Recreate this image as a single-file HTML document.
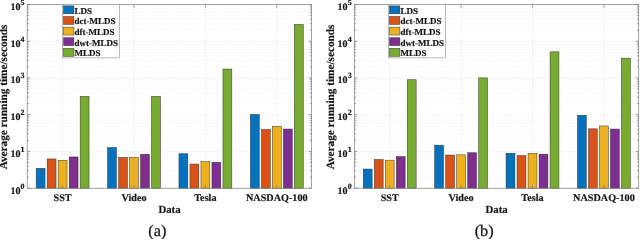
<!DOCTYPE html>
<html><head><meta charset="utf-8"><style>
html,body{margin:0;padding:0;background:#fff;width:640px;height:239px;overflow:hidden}
svg{display:block;will-change:transform}
text{font-family:"Liberation Serif",serif;fill:#161616;stroke:#161616;stroke-width:0.18px;text-rendering:geometricPrecision}
.tk{font-size:10px;font-weight:bold}
.sup{font-size:8px;font-weight:bold}
.xt{font-size:10.2px;font-weight:bold}
.xl{font-size:10.8px;font-weight:bold}
.yl{font-size:11.25px;font-weight:bold}
.lg{font-size:9px;font-weight:bold}
.cap{font-size:16.3px;stroke:#222;stroke-width:0.3px}
</style></head><body>
<svg width="640" height="239" viewBox="0 0 640 239">
<rect width="640" height="239" fill="#fff"/>
<line x1="27.20" y1="177.14" x2="311.60" y2="177.14" stroke="#f2f2f2" stroke-width="0.6" stroke-dasharray="1.6 0.8"/>
<line x1="27.20" y1="170.67" x2="311.60" y2="170.67" stroke="#f2f2f2" stroke-width="0.6" stroke-dasharray="1.6 0.8"/>
<line x1="27.20" y1="166.08" x2="311.60" y2="166.08" stroke="#f2f2f2" stroke-width="0.6" stroke-dasharray="1.6 0.8"/>
<line x1="27.20" y1="162.52" x2="311.60" y2="162.52" stroke="#f2f2f2" stroke-width="0.6" stroke-dasharray="1.6 0.8"/>
<line x1="27.20" y1="159.61" x2="311.60" y2="159.61" stroke="#f2f2f2" stroke-width="0.6" stroke-dasharray="1.6 0.8"/>
<line x1="27.20" y1="157.15" x2="311.60" y2="157.15" stroke="#f2f2f2" stroke-width="0.6" stroke-dasharray="1.6 0.8"/>
<line x1="27.20" y1="155.02" x2="311.60" y2="155.02" stroke="#f2f2f2" stroke-width="0.6" stroke-dasharray="1.6 0.8"/>
<line x1="27.20" y1="153.14" x2="311.60" y2="153.14" stroke="#f2f2f2" stroke-width="0.6" stroke-dasharray="1.6 0.8"/>
<line x1="27.20" y1="140.40" x2="311.60" y2="140.40" stroke="#f2f2f2" stroke-width="0.6" stroke-dasharray="1.6 0.8"/>
<line x1="27.20" y1="133.93" x2="311.60" y2="133.93" stroke="#f2f2f2" stroke-width="0.6" stroke-dasharray="1.6 0.8"/>
<line x1="27.20" y1="129.34" x2="311.60" y2="129.34" stroke="#f2f2f2" stroke-width="0.6" stroke-dasharray="1.6 0.8"/>
<line x1="27.20" y1="125.78" x2="311.60" y2="125.78" stroke="#f2f2f2" stroke-width="0.6" stroke-dasharray="1.6 0.8"/>
<line x1="27.20" y1="122.87" x2="311.60" y2="122.87" stroke="#f2f2f2" stroke-width="0.6" stroke-dasharray="1.6 0.8"/>
<line x1="27.20" y1="120.41" x2="311.60" y2="120.41" stroke="#f2f2f2" stroke-width="0.6" stroke-dasharray="1.6 0.8"/>
<line x1="27.20" y1="118.28" x2="311.60" y2="118.28" stroke="#f2f2f2" stroke-width="0.6" stroke-dasharray="1.6 0.8"/>
<line x1="27.20" y1="116.40" x2="311.60" y2="116.40" stroke="#f2f2f2" stroke-width="0.6" stroke-dasharray="1.6 0.8"/>
<line x1="27.20" y1="103.66" x2="311.60" y2="103.66" stroke="#f2f2f2" stroke-width="0.6" stroke-dasharray="1.6 0.8"/>
<line x1="27.20" y1="97.19" x2="311.60" y2="97.19" stroke="#f2f2f2" stroke-width="0.6" stroke-dasharray="1.6 0.8"/>
<line x1="27.20" y1="92.60" x2="311.60" y2="92.60" stroke="#f2f2f2" stroke-width="0.6" stroke-dasharray="1.6 0.8"/>
<line x1="27.20" y1="89.04" x2="311.60" y2="89.04" stroke="#f2f2f2" stroke-width="0.6" stroke-dasharray="1.6 0.8"/>
<line x1="27.20" y1="86.13" x2="311.60" y2="86.13" stroke="#f2f2f2" stroke-width="0.6" stroke-dasharray="1.6 0.8"/>
<line x1="27.20" y1="83.67" x2="311.60" y2="83.67" stroke="#f2f2f2" stroke-width="0.6" stroke-dasharray="1.6 0.8"/>
<line x1="27.20" y1="81.54" x2="311.60" y2="81.54" stroke="#f2f2f2" stroke-width="0.6" stroke-dasharray="1.6 0.8"/>
<line x1="27.20" y1="79.66" x2="311.60" y2="79.66" stroke="#f2f2f2" stroke-width="0.6" stroke-dasharray="1.6 0.8"/>
<line x1="27.20" y1="66.92" x2="311.60" y2="66.92" stroke="#f2f2f2" stroke-width="0.6" stroke-dasharray="1.6 0.8"/>
<line x1="27.20" y1="60.45" x2="311.60" y2="60.45" stroke="#f2f2f2" stroke-width="0.6" stroke-dasharray="1.6 0.8"/>
<line x1="27.20" y1="55.86" x2="311.60" y2="55.86" stroke="#f2f2f2" stroke-width="0.6" stroke-dasharray="1.6 0.8"/>
<line x1="27.20" y1="52.30" x2="311.60" y2="52.30" stroke="#f2f2f2" stroke-width="0.6" stroke-dasharray="1.6 0.8"/>
<line x1="27.20" y1="49.39" x2="311.60" y2="49.39" stroke="#f2f2f2" stroke-width="0.6" stroke-dasharray="1.6 0.8"/>
<line x1="27.20" y1="46.93" x2="311.60" y2="46.93" stroke="#f2f2f2" stroke-width="0.6" stroke-dasharray="1.6 0.8"/>
<line x1="27.20" y1="44.80" x2="311.60" y2="44.80" stroke="#f2f2f2" stroke-width="0.6" stroke-dasharray="1.6 0.8"/>
<line x1="27.20" y1="42.92" x2="311.60" y2="42.92" stroke="#f2f2f2" stroke-width="0.6" stroke-dasharray="1.6 0.8"/>
<line x1="27.20" y1="30.18" x2="311.60" y2="30.18" stroke="#f2f2f2" stroke-width="0.6" stroke-dasharray="1.6 0.8"/>
<line x1="27.20" y1="23.71" x2="311.60" y2="23.71" stroke="#f2f2f2" stroke-width="0.6" stroke-dasharray="1.6 0.8"/>
<line x1="27.20" y1="19.12" x2="311.60" y2="19.12" stroke="#f2f2f2" stroke-width="0.6" stroke-dasharray="1.6 0.8"/>
<line x1="27.20" y1="15.56" x2="311.60" y2="15.56" stroke="#f2f2f2" stroke-width="0.6" stroke-dasharray="1.6 0.8"/>
<line x1="27.20" y1="12.65" x2="311.60" y2="12.65" stroke="#f2f2f2" stroke-width="0.6" stroke-dasharray="1.6 0.8"/>
<line x1="27.20" y1="10.19" x2="311.60" y2="10.19" stroke="#f2f2f2" stroke-width="0.6" stroke-dasharray="1.6 0.8"/>
<line x1="27.20" y1="8.06" x2="311.60" y2="8.06" stroke="#f2f2f2" stroke-width="0.6" stroke-dasharray="1.6 0.8"/>
<line x1="27.20" y1="6.18" x2="311.60" y2="6.18" stroke="#f2f2f2" stroke-width="0.6" stroke-dasharray="1.6 0.8"/>
<line x1="27.20" y1="151.46" x2="311.60" y2="151.46" stroke="#ececec" stroke-width="0.6"/>
<line x1="27.20" y1="114.72" x2="311.60" y2="114.72" stroke="#ececec" stroke-width="0.6"/>
<line x1="27.20" y1="77.98" x2="311.60" y2="77.98" stroke="#ececec" stroke-width="0.6"/>
<line x1="27.20" y1="41.24" x2="311.60" y2="41.24" stroke="#ececec" stroke-width="0.6"/>
<line x1="62.60" y1="4.50" x2="62.60" y2="188.20" stroke="#ececec" stroke-width="0.6"/>
<line x1="134.00" y1="4.50" x2="134.00" y2="188.20" stroke="#ececec" stroke-width="0.6"/>
<line x1="205.40" y1="4.50" x2="205.40" y2="188.20" stroke="#ececec" stroke-width="0.6"/>
<line x1="276.80" y1="4.50" x2="276.80" y2="188.20" stroke="#ececec" stroke-width="0.6"/>
<rect x="34.95" y="167.15" width="11.30" height="21.05" fill="#fff"/>
<rect x="36.15" y="168.35" width="8.9" height="19.85" fill="#0072BD" stroke="#333" stroke-width="0.5"/>
<rect x="45.95" y="157.75" width="11.30" height="30.45" fill="#fff"/>
<rect x="47.15" y="158.95" width="8.9" height="29.25" fill="#D95319" stroke="#333" stroke-width="0.5"/>
<rect x="56.95" y="159.10" width="11.30" height="29.10" fill="#fff"/>
<rect x="58.15" y="160.30" width="8.9" height="27.90" fill="#EDB120" stroke="#333" stroke-width="0.5"/>
<rect x="67.95" y="155.75" width="11.30" height="32.45" fill="#fff"/>
<rect x="69.15" y="156.95" width="8.9" height="31.25" fill="#7E2F8E" stroke="#333" stroke-width="0.5"/>
<rect x="78.95" y="95.15" width="11.30" height="93.05" fill="#fff"/>
<rect x="80.15" y="96.35" width="8.9" height="91.85" fill="#77AC30" stroke="#333" stroke-width="0.5"/>
<rect x="106.35" y="146.35" width="11.30" height="41.85" fill="#fff"/>
<rect x="107.55" y="147.55" width="8.9" height="40.65" fill="#0072BD" stroke="#333" stroke-width="0.5"/>
<rect x="117.35" y="156.15" width="11.30" height="32.05" fill="#fff"/>
<rect x="118.55" y="157.35" width="8.9" height="30.85" fill="#D95319" stroke="#333" stroke-width="0.5"/>
<rect x="128.35" y="156.15" width="11.30" height="32.05" fill="#fff"/>
<rect x="129.55" y="157.35" width="8.9" height="30.85" fill="#EDB120" stroke="#333" stroke-width="0.5"/>
<rect x="139.35" y="153.05" width="11.30" height="35.15" fill="#fff"/>
<rect x="140.55" y="154.25" width="8.9" height="33.95" fill="#7E2F8E" stroke="#333" stroke-width="0.5"/>
<rect x="150.35" y="95.15" width="11.30" height="93.05" fill="#fff"/>
<rect x="151.55" y="96.35" width="8.9" height="91.85" fill="#77AC30" stroke="#333" stroke-width="0.5"/>
<rect x="177.75" y="152.55" width="11.30" height="35.65" fill="#fff"/>
<rect x="178.95" y="153.75" width="8.9" height="34.45" fill="#0072BD" stroke="#333" stroke-width="0.5"/>
<rect x="188.75" y="162.85" width="11.30" height="25.35" fill="#fff"/>
<rect x="189.95" y="164.05" width="8.9" height="24.15" fill="#D95319" stroke="#333" stroke-width="0.5"/>
<rect x="199.75" y="160.45" width="11.30" height="27.75" fill="#fff"/>
<rect x="200.95" y="161.65" width="8.9" height="26.55" fill="#EDB120" stroke="#333" stroke-width="0.5"/>
<rect x="210.75" y="161.05" width="11.30" height="27.15" fill="#fff"/>
<rect x="211.95" y="162.25" width="8.9" height="25.95" fill="#7E2F8E" stroke="#333" stroke-width="0.5"/>
<rect x="221.75" y="67.85" width="11.30" height="120.35" fill="#fff"/>
<rect x="222.95" y="69.05" width="8.9" height="119.15" fill="#77AC30" stroke="#333" stroke-width="0.5"/>
<rect x="249.15" y="113.25" width="11.30" height="74.95" fill="#fff"/>
<rect x="250.35" y="114.45" width="8.9" height="73.75" fill="#0072BD" stroke="#333" stroke-width="0.5"/>
<rect x="260.15" y="128.30" width="11.30" height="59.90" fill="#fff"/>
<rect x="261.35" y="129.50" width="8.9" height="58.70" fill="#D95319" stroke="#333" stroke-width="0.5"/>
<rect x="271.15" y="125.15" width="11.30" height="63.05" fill="#fff"/>
<rect x="272.35" y="126.35" width="8.9" height="61.85" fill="#EDB120" stroke="#333" stroke-width="0.5"/>
<rect x="282.15" y="127.85" width="11.30" height="60.35" fill="#fff"/>
<rect x="283.35" y="129.05" width="8.9" height="59.15" fill="#7E2F8E" stroke="#333" stroke-width="0.5"/>
<rect x="293.15" y="23.25" width="11.30" height="164.95" fill="#fff"/>
<rect x="294.35" y="24.45" width="8.9" height="163.75" fill="#77AC30" stroke="#333" stroke-width="0.5"/>
<rect x="27.20" y="4.5" width="284.40" height="183.70" fill="none" stroke="#7a7a7a" stroke-width="0.7"/>
<line x1="27.20" y1="188.20" x2="30.20" y2="188.20" stroke="#7a7a7a" stroke-width="0.7"/>
<line x1="308.60" y1="188.20" x2="311.60" y2="188.20" stroke="#7a7a7a" stroke-width="0.7"/>
<line x1="27.20" y1="177.14" x2="28.90" y2="177.14" stroke="#7a7a7a" stroke-width="0.7"/>
<line x1="309.90" y1="177.14" x2="311.60" y2="177.14" stroke="#7a7a7a" stroke-width="0.7"/>
<line x1="27.20" y1="170.67" x2="28.90" y2="170.67" stroke="#7a7a7a" stroke-width="0.7"/>
<line x1="309.90" y1="170.67" x2="311.60" y2="170.67" stroke="#7a7a7a" stroke-width="0.7"/>
<line x1="27.20" y1="166.08" x2="28.90" y2="166.08" stroke="#7a7a7a" stroke-width="0.7"/>
<line x1="309.90" y1="166.08" x2="311.60" y2="166.08" stroke="#7a7a7a" stroke-width="0.7"/>
<line x1="27.20" y1="162.52" x2="28.90" y2="162.52" stroke="#7a7a7a" stroke-width="0.7"/>
<line x1="309.90" y1="162.52" x2="311.60" y2="162.52" stroke="#7a7a7a" stroke-width="0.7"/>
<line x1="27.20" y1="159.61" x2="28.90" y2="159.61" stroke="#7a7a7a" stroke-width="0.7"/>
<line x1="309.90" y1="159.61" x2="311.60" y2="159.61" stroke="#7a7a7a" stroke-width="0.7"/>
<line x1="27.20" y1="157.15" x2="28.90" y2="157.15" stroke="#7a7a7a" stroke-width="0.7"/>
<line x1="309.90" y1="157.15" x2="311.60" y2="157.15" stroke="#7a7a7a" stroke-width="0.7"/>
<line x1="27.20" y1="155.02" x2="28.90" y2="155.02" stroke="#7a7a7a" stroke-width="0.7"/>
<line x1="309.90" y1="155.02" x2="311.60" y2="155.02" stroke="#7a7a7a" stroke-width="0.7"/>
<line x1="27.20" y1="153.14" x2="28.90" y2="153.14" stroke="#7a7a7a" stroke-width="0.7"/>
<line x1="309.90" y1="153.14" x2="311.60" y2="153.14" stroke="#7a7a7a" stroke-width="0.7"/>
<text x="20.50" y="193.60" text-anchor="end" class="tk">10</text>
<text x="20.60" y="188.50" class="sup">0</text>
<line x1="27.20" y1="151.46" x2="30.20" y2="151.46" stroke="#7a7a7a" stroke-width="0.7"/>
<line x1="308.60" y1="151.46" x2="311.60" y2="151.46" stroke="#7a7a7a" stroke-width="0.7"/>
<line x1="27.20" y1="140.40" x2="28.90" y2="140.40" stroke="#7a7a7a" stroke-width="0.7"/>
<line x1="309.90" y1="140.40" x2="311.60" y2="140.40" stroke="#7a7a7a" stroke-width="0.7"/>
<line x1="27.20" y1="133.93" x2="28.90" y2="133.93" stroke="#7a7a7a" stroke-width="0.7"/>
<line x1="309.90" y1="133.93" x2="311.60" y2="133.93" stroke="#7a7a7a" stroke-width="0.7"/>
<line x1="27.20" y1="129.34" x2="28.90" y2="129.34" stroke="#7a7a7a" stroke-width="0.7"/>
<line x1="309.90" y1="129.34" x2="311.60" y2="129.34" stroke="#7a7a7a" stroke-width="0.7"/>
<line x1="27.20" y1="125.78" x2="28.90" y2="125.78" stroke="#7a7a7a" stroke-width="0.7"/>
<line x1="309.90" y1="125.78" x2="311.60" y2="125.78" stroke="#7a7a7a" stroke-width="0.7"/>
<line x1="27.20" y1="122.87" x2="28.90" y2="122.87" stroke="#7a7a7a" stroke-width="0.7"/>
<line x1="309.90" y1="122.87" x2="311.60" y2="122.87" stroke="#7a7a7a" stroke-width="0.7"/>
<line x1="27.20" y1="120.41" x2="28.90" y2="120.41" stroke="#7a7a7a" stroke-width="0.7"/>
<line x1="309.90" y1="120.41" x2="311.60" y2="120.41" stroke="#7a7a7a" stroke-width="0.7"/>
<line x1="27.20" y1="118.28" x2="28.90" y2="118.28" stroke="#7a7a7a" stroke-width="0.7"/>
<line x1="309.90" y1="118.28" x2="311.60" y2="118.28" stroke="#7a7a7a" stroke-width="0.7"/>
<line x1="27.20" y1="116.40" x2="28.90" y2="116.40" stroke="#7a7a7a" stroke-width="0.7"/>
<line x1="309.90" y1="116.40" x2="311.60" y2="116.40" stroke="#7a7a7a" stroke-width="0.7"/>
<text x="20.50" y="156.86" text-anchor="end" class="tk">10</text>
<text x="20.60" y="151.76" class="sup">1</text>
<line x1="27.20" y1="114.72" x2="30.20" y2="114.72" stroke="#7a7a7a" stroke-width="0.7"/>
<line x1="308.60" y1="114.72" x2="311.60" y2="114.72" stroke="#7a7a7a" stroke-width="0.7"/>
<line x1="27.20" y1="103.66" x2="28.90" y2="103.66" stroke="#7a7a7a" stroke-width="0.7"/>
<line x1="309.90" y1="103.66" x2="311.60" y2="103.66" stroke="#7a7a7a" stroke-width="0.7"/>
<line x1="27.20" y1="97.19" x2="28.90" y2="97.19" stroke="#7a7a7a" stroke-width="0.7"/>
<line x1="309.90" y1="97.19" x2="311.60" y2="97.19" stroke="#7a7a7a" stroke-width="0.7"/>
<line x1="27.20" y1="92.60" x2="28.90" y2="92.60" stroke="#7a7a7a" stroke-width="0.7"/>
<line x1="309.90" y1="92.60" x2="311.60" y2="92.60" stroke="#7a7a7a" stroke-width="0.7"/>
<line x1="27.20" y1="89.04" x2="28.90" y2="89.04" stroke="#7a7a7a" stroke-width="0.7"/>
<line x1="309.90" y1="89.04" x2="311.60" y2="89.04" stroke="#7a7a7a" stroke-width="0.7"/>
<line x1="27.20" y1="86.13" x2="28.90" y2="86.13" stroke="#7a7a7a" stroke-width="0.7"/>
<line x1="309.90" y1="86.13" x2="311.60" y2="86.13" stroke="#7a7a7a" stroke-width="0.7"/>
<line x1="27.20" y1="83.67" x2="28.90" y2="83.67" stroke="#7a7a7a" stroke-width="0.7"/>
<line x1="309.90" y1="83.67" x2="311.60" y2="83.67" stroke="#7a7a7a" stroke-width="0.7"/>
<line x1="27.20" y1="81.54" x2="28.90" y2="81.54" stroke="#7a7a7a" stroke-width="0.7"/>
<line x1="309.90" y1="81.54" x2="311.60" y2="81.54" stroke="#7a7a7a" stroke-width="0.7"/>
<line x1="27.20" y1="79.66" x2="28.90" y2="79.66" stroke="#7a7a7a" stroke-width="0.7"/>
<line x1="309.90" y1="79.66" x2="311.60" y2="79.66" stroke="#7a7a7a" stroke-width="0.7"/>
<text x="20.50" y="120.12" text-anchor="end" class="tk">10</text>
<text x="20.60" y="115.02" class="sup">2</text>
<line x1="27.20" y1="77.98" x2="30.20" y2="77.98" stroke="#7a7a7a" stroke-width="0.7"/>
<line x1="308.60" y1="77.98" x2="311.60" y2="77.98" stroke="#7a7a7a" stroke-width="0.7"/>
<line x1="27.20" y1="66.92" x2="28.90" y2="66.92" stroke="#7a7a7a" stroke-width="0.7"/>
<line x1="309.90" y1="66.92" x2="311.60" y2="66.92" stroke="#7a7a7a" stroke-width="0.7"/>
<line x1="27.20" y1="60.45" x2="28.90" y2="60.45" stroke="#7a7a7a" stroke-width="0.7"/>
<line x1="309.90" y1="60.45" x2="311.60" y2="60.45" stroke="#7a7a7a" stroke-width="0.7"/>
<line x1="27.20" y1="55.86" x2="28.90" y2="55.86" stroke="#7a7a7a" stroke-width="0.7"/>
<line x1="309.90" y1="55.86" x2="311.60" y2="55.86" stroke="#7a7a7a" stroke-width="0.7"/>
<line x1="27.20" y1="52.30" x2="28.90" y2="52.30" stroke="#7a7a7a" stroke-width="0.7"/>
<line x1="309.90" y1="52.30" x2="311.60" y2="52.30" stroke="#7a7a7a" stroke-width="0.7"/>
<line x1="27.20" y1="49.39" x2="28.90" y2="49.39" stroke="#7a7a7a" stroke-width="0.7"/>
<line x1="309.90" y1="49.39" x2="311.60" y2="49.39" stroke="#7a7a7a" stroke-width="0.7"/>
<line x1="27.20" y1="46.93" x2="28.90" y2="46.93" stroke="#7a7a7a" stroke-width="0.7"/>
<line x1="309.90" y1="46.93" x2="311.60" y2="46.93" stroke="#7a7a7a" stroke-width="0.7"/>
<line x1="27.20" y1="44.80" x2="28.90" y2="44.80" stroke="#7a7a7a" stroke-width="0.7"/>
<line x1="309.90" y1="44.80" x2="311.60" y2="44.80" stroke="#7a7a7a" stroke-width="0.7"/>
<line x1="27.20" y1="42.92" x2="28.90" y2="42.92" stroke="#7a7a7a" stroke-width="0.7"/>
<line x1="309.90" y1="42.92" x2="311.60" y2="42.92" stroke="#7a7a7a" stroke-width="0.7"/>
<text x="20.50" y="83.38" text-anchor="end" class="tk">10</text>
<text x="20.60" y="78.28" class="sup">3</text>
<line x1="27.20" y1="41.24" x2="30.20" y2="41.24" stroke="#7a7a7a" stroke-width="0.7"/>
<line x1="308.60" y1="41.24" x2="311.60" y2="41.24" stroke="#7a7a7a" stroke-width="0.7"/>
<line x1="27.20" y1="30.18" x2="28.90" y2="30.18" stroke="#7a7a7a" stroke-width="0.7"/>
<line x1="309.90" y1="30.18" x2="311.60" y2="30.18" stroke="#7a7a7a" stroke-width="0.7"/>
<line x1="27.20" y1="23.71" x2="28.90" y2="23.71" stroke="#7a7a7a" stroke-width="0.7"/>
<line x1="309.90" y1="23.71" x2="311.60" y2="23.71" stroke="#7a7a7a" stroke-width="0.7"/>
<line x1="27.20" y1="19.12" x2="28.90" y2="19.12" stroke="#7a7a7a" stroke-width="0.7"/>
<line x1="309.90" y1="19.12" x2="311.60" y2="19.12" stroke="#7a7a7a" stroke-width="0.7"/>
<line x1="27.20" y1="15.56" x2="28.90" y2="15.56" stroke="#7a7a7a" stroke-width="0.7"/>
<line x1="309.90" y1="15.56" x2="311.60" y2="15.56" stroke="#7a7a7a" stroke-width="0.7"/>
<line x1="27.20" y1="12.65" x2="28.90" y2="12.65" stroke="#7a7a7a" stroke-width="0.7"/>
<line x1="309.90" y1="12.65" x2="311.60" y2="12.65" stroke="#7a7a7a" stroke-width="0.7"/>
<line x1="27.20" y1="10.19" x2="28.90" y2="10.19" stroke="#7a7a7a" stroke-width="0.7"/>
<line x1="309.90" y1="10.19" x2="311.60" y2="10.19" stroke="#7a7a7a" stroke-width="0.7"/>
<line x1="27.20" y1="8.06" x2="28.90" y2="8.06" stroke="#7a7a7a" stroke-width="0.7"/>
<line x1="309.90" y1="8.06" x2="311.60" y2="8.06" stroke="#7a7a7a" stroke-width="0.7"/>
<line x1="27.20" y1="6.18" x2="28.90" y2="6.18" stroke="#7a7a7a" stroke-width="0.7"/>
<line x1="309.90" y1="6.18" x2="311.60" y2="6.18" stroke="#7a7a7a" stroke-width="0.7"/>
<text x="20.50" y="46.64" text-anchor="end" class="tk">10</text>
<text x="20.60" y="41.54" class="sup">4</text>
<line x1="27.20" y1="4.50" x2="30.20" y2="4.50" stroke="#7a7a7a" stroke-width="0.7"/>
<line x1="308.60" y1="4.50" x2="311.60" y2="4.50" stroke="#7a7a7a" stroke-width="0.7"/>
<text x="20.50" y="9.90" text-anchor="end" class="tk">10</text>
<text x="20.60" y="4.80" class="sup">5</text>
<line x1="62.60" y1="188.20" x2="62.60" y2="185.00" stroke="#7a7a7a" stroke-width="0.7"/>
<line x1="62.60" y1="4.50" x2="62.60" y2="7.70" stroke="#7a7a7a" stroke-width="0.7"/>
<line x1="134.00" y1="188.20" x2="134.00" y2="185.00" stroke="#7a7a7a" stroke-width="0.7"/>
<line x1="134.00" y1="4.50" x2="134.00" y2="7.70" stroke="#7a7a7a" stroke-width="0.7"/>
<line x1="205.40" y1="188.20" x2="205.40" y2="185.00" stroke="#7a7a7a" stroke-width="0.7"/>
<line x1="205.40" y1="4.50" x2="205.40" y2="7.70" stroke="#7a7a7a" stroke-width="0.7"/>
<line x1="276.80" y1="188.20" x2="276.80" y2="185.00" stroke="#7a7a7a" stroke-width="0.7"/>
<line x1="276.80" y1="4.50" x2="276.80" y2="7.70" stroke="#7a7a7a" stroke-width="0.7"/>
<text x="62.60" y="200.8" text-anchor="middle" class="xt">SST</text>
<text x="134.00" y="200.8" text-anchor="middle" class="xt">Video</text>
<text x="205.40" y="200.8" text-anchor="middle" class="xt">Tesla</text>
<text x="276.80" y="200.8" text-anchor="middle" class="xt">NASDAQ-100</text>
<text x="169.50" y="213.2" text-anchor="middle" class="xl">Data</text>
<text transform="translate(7.20,96.95) rotate(-90)" text-anchor="middle" class="yl">Average running time/seconds</text>
<rect x="62.5" y="4.4" width="57.0" height="53.5" fill="#fff" stroke="#8c8c8c" stroke-width="0.6"/>
<rect x="63.50" y="5.90" width="10.4" height="7.9" fill="#0072BD" stroke="#333" stroke-width="0.5"/>
<text x="74.50" y="13.80" class="lg">LDS</text>
<rect x="63.50" y="16.52" width="10.4" height="7.9" fill="#D95319" stroke="#333" stroke-width="0.5"/>
<text x="74.50" y="24.42" class="lg">dct-MLDS</text>
<rect x="63.50" y="27.14" width="10.4" height="7.9" fill="#EDB120" stroke="#333" stroke-width="0.5"/>
<text x="74.50" y="35.04" class="lg">dft-MLDS</text>
<rect x="63.50" y="37.76" width="10.4" height="7.9" fill="#7E2F8E" stroke="#333" stroke-width="0.5"/>
<text x="74.50" y="45.66" class="lg">dwt-MLDS</text>
<rect x="63.50" y="48.38" width="10.4" height="7.9" fill="#77AC30" stroke="#333" stroke-width="0.5"/>
<text x="74.50" y="56.28" class="lg">MLDS</text>
<text x="157.30" y="236.3" text-anchor="middle" class="cap">(a)</text>
<line x1="354.30" y1="177.14" x2="638.70" y2="177.14" stroke="#f2f2f2" stroke-width="0.6" stroke-dasharray="1.6 0.8"/>
<line x1="354.30" y1="170.67" x2="638.70" y2="170.67" stroke="#f2f2f2" stroke-width="0.6" stroke-dasharray="1.6 0.8"/>
<line x1="354.30" y1="166.08" x2="638.70" y2="166.08" stroke="#f2f2f2" stroke-width="0.6" stroke-dasharray="1.6 0.8"/>
<line x1="354.30" y1="162.52" x2="638.70" y2="162.52" stroke="#f2f2f2" stroke-width="0.6" stroke-dasharray="1.6 0.8"/>
<line x1="354.30" y1="159.61" x2="638.70" y2="159.61" stroke="#f2f2f2" stroke-width="0.6" stroke-dasharray="1.6 0.8"/>
<line x1="354.30" y1="157.15" x2="638.70" y2="157.15" stroke="#f2f2f2" stroke-width="0.6" stroke-dasharray="1.6 0.8"/>
<line x1="354.30" y1="155.02" x2="638.70" y2="155.02" stroke="#f2f2f2" stroke-width="0.6" stroke-dasharray="1.6 0.8"/>
<line x1="354.30" y1="153.14" x2="638.70" y2="153.14" stroke="#f2f2f2" stroke-width="0.6" stroke-dasharray="1.6 0.8"/>
<line x1="354.30" y1="140.40" x2="638.70" y2="140.40" stroke="#f2f2f2" stroke-width="0.6" stroke-dasharray="1.6 0.8"/>
<line x1="354.30" y1="133.93" x2="638.70" y2="133.93" stroke="#f2f2f2" stroke-width="0.6" stroke-dasharray="1.6 0.8"/>
<line x1="354.30" y1="129.34" x2="638.70" y2="129.34" stroke="#f2f2f2" stroke-width="0.6" stroke-dasharray="1.6 0.8"/>
<line x1="354.30" y1="125.78" x2="638.70" y2="125.78" stroke="#f2f2f2" stroke-width="0.6" stroke-dasharray="1.6 0.8"/>
<line x1="354.30" y1="122.87" x2="638.70" y2="122.87" stroke="#f2f2f2" stroke-width="0.6" stroke-dasharray="1.6 0.8"/>
<line x1="354.30" y1="120.41" x2="638.70" y2="120.41" stroke="#f2f2f2" stroke-width="0.6" stroke-dasharray="1.6 0.8"/>
<line x1="354.30" y1="118.28" x2="638.70" y2="118.28" stroke="#f2f2f2" stroke-width="0.6" stroke-dasharray="1.6 0.8"/>
<line x1="354.30" y1="116.40" x2="638.70" y2="116.40" stroke="#f2f2f2" stroke-width="0.6" stroke-dasharray="1.6 0.8"/>
<line x1="354.30" y1="103.66" x2="638.70" y2="103.66" stroke="#f2f2f2" stroke-width="0.6" stroke-dasharray="1.6 0.8"/>
<line x1="354.30" y1="97.19" x2="638.70" y2="97.19" stroke="#f2f2f2" stroke-width="0.6" stroke-dasharray="1.6 0.8"/>
<line x1="354.30" y1="92.60" x2="638.70" y2="92.60" stroke="#f2f2f2" stroke-width="0.6" stroke-dasharray="1.6 0.8"/>
<line x1="354.30" y1="89.04" x2="638.70" y2="89.04" stroke="#f2f2f2" stroke-width="0.6" stroke-dasharray="1.6 0.8"/>
<line x1="354.30" y1="86.13" x2="638.70" y2="86.13" stroke="#f2f2f2" stroke-width="0.6" stroke-dasharray="1.6 0.8"/>
<line x1="354.30" y1="83.67" x2="638.70" y2="83.67" stroke="#f2f2f2" stroke-width="0.6" stroke-dasharray="1.6 0.8"/>
<line x1="354.30" y1="81.54" x2="638.70" y2="81.54" stroke="#f2f2f2" stroke-width="0.6" stroke-dasharray="1.6 0.8"/>
<line x1="354.30" y1="79.66" x2="638.70" y2="79.66" stroke="#f2f2f2" stroke-width="0.6" stroke-dasharray="1.6 0.8"/>
<line x1="354.30" y1="66.92" x2="638.70" y2="66.92" stroke="#f2f2f2" stroke-width="0.6" stroke-dasharray="1.6 0.8"/>
<line x1="354.30" y1="60.45" x2="638.70" y2="60.45" stroke="#f2f2f2" stroke-width="0.6" stroke-dasharray="1.6 0.8"/>
<line x1="354.30" y1="55.86" x2="638.70" y2="55.86" stroke="#f2f2f2" stroke-width="0.6" stroke-dasharray="1.6 0.8"/>
<line x1="354.30" y1="52.30" x2="638.70" y2="52.30" stroke="#f2f2f2" stroke-width="0.6" stroke-dasharray="1.6 0.8"/>
<line x1="354.30" y1="49.39" x2="638.70" y2="49.39" stroke="#f2f2f2" stroke-width="0.6" stroke-dasharray="1.6 0.8"/>
<line x1="354.30" y1="46.93" x2="638.70" y2="46.93" stroke="#f2f2f2" stroke-width="0.6" stroke-dasharray="1.6 0.8"/>
<line x1="354.30" y1="44.80" x2="638.70" y2="44.80" stroke="#f2f2f2" stroke-width="0.6" stroke-dasharray="1.6 0.8"/>
<line x1="354.30" y1="42.92" x2="638.70" y2="42.92" stroke="#f2f2f2" stroke-width="0.6" stroke-dasharray="1.6 0.8"/>
<line x1="354.30" y1="30.18" x2="638.70" y2="30.18" stroke="#f2f2f2" stroke-width="0.6" stroke-dasharray="1.6 0.8"/>
<line x1="354.30" y1="23.71" x2="638.70" y2="23.71" stroke="#f2f2f2" stroke-width="0.6" stroke-dasharray="1.6 0.8"/>
<line x1="354.30" y1="19.12" x2="638.70" y2="19.12" stroke="#f2f2f2" stroke-width="0.6" stroke-dasharray="1.6 0.8"/>
<line x1="354.30" y1="15.56" x2="638.70" y2="15.56" stroke="#f2f2f2" stroke-width="0.6" stroke-dasharray="1.6 0.8"/>
<line x1="354.30" y1="12.65" x2="638.70" y2="12.65" stroke="#f2f2f2" stroke-width="0.6" stroke-dasharray="1.6 0.8"/>
<line x1="354.30" y1="10.19" x2="638.70" y2="10.19" stroke="#f2f2f2" stroke-width="0.6" stroke-dasharray="1.6 0.8"/>
<line x1="354.30" y1="8.06" x2="638.70" y2="8.06" stroke="#f2f2f2" stroke-width="0.6" stroke-dasharray="1.6 0.8"/>
<line x1="354.30" y1="6.18" x2="638.70" y2="6.18" stroke="#f2f2f2" stroke-width="0.6" stroke-dasharray="1.6 0.8"/>
<line x1="354.30" y1="151.46" x2="638.70" y2="151.46" stroke="#ececec" stroke-width="0.6"/>
<line x1="354.30" y1="114.72" x2="638.70" y2="114.72" stroke="#ececec" stroke-width="0.6"/>
<line x1="354.30" y1="77.98" x2="638.70" y2="77.98" stroke="#ececec" stroke-width="0.6"/>
<line x1="354.30" y1="41.24" x2="638.70" y2="41.24" stroke="#ececec" stroke-width="0.6"/>
<line x1="389.70" y1="4.50" x2="389.70" y2="188.20" stroke="#ececec" stroke-width="0.6"/>
<line x1="461.10" y1="4.50" x2="461.10" y2="188.20" stroke="#ececec" stroke-width="0.6"/>
<line x1="532.50" y1="4.50" x2="532.50" y2="188.20" stroke="#ececec" stroke-width="0.6"/>
<line x1="603.90" y1="4.50" x2="603.90" y2="188.20" stroke="#ececec" stroke-width="0.6"/>
<rect x="362.05" y="167.85" width="11.30" height="20.35" fill="#fff"/>
<rect x="363.25" y="169.05" width="8.9" height="19.15" fill="#0072BD" stroke="#333" stroke-width="0.5"/>
<rect x="373.05" y="158.25" width="11.30" height="29.95" fill="#fff"/>
<rect x="374.25" y="159.45" width="8.9" height="28.75" fill="#D95319" stroke="#333" stroke-width="0.5"/>
<rect x="384.05" y="158.95" width="11.30" height="29.25" fill="#fff"/>
<rect x="385.25" y="160.15" width="8.9" height="28.05" fill="#EDB120" stroke="#333" stroke-width="0.5"/>
<rect x="395.05" y="155.35" width="11.30" height="32.85" fill="#fff"/>
<rect x="396.25" y="156.55" width="8.9" height="31.65" fill="#7E2F8E" stroke="#333" stroke-width="0.5"/>
<rect x="406.05" y="78.55" width="11.30" height="109.65" fill="#fff"/>
<rect x="407.25" y="79.75" width="8.9" height="108.45" fill="#77AC30" stroke="#333" stroke-width="0.5"/>
<rect x="433.45" y="143.95" width="11.30" height="44.25" fill="#fff"/>
<rect x="434.65" y="145.15" width="8.9" height="43.05" fill="#0072BD" stroke="#333" stroke-width="0.5"/>
<rect x="444.45" y="153.85" width="11.30" height="34.35" fill="#fff"/>
<rect x="445.65" y="155.05" width="8.9" height="33.15" fill="#D95319" stroke="#333" stroke-width="0.5"/>
<rect x="455.45" y="153.65" width="11.30" height="34.55" fill="#fff"/>
<rect x="456.65" y="154.85" width="8.9" height="33.35" fill="#EDB120" stroke="#333" stroke-width="0.5"/>
<rect x="466.45" y="151.55" width="11.30" height="36.65" fill="#fff"/>
<rect x="467.65" y="152.75" width="8.9" height="35.45" fill="#7E2F8E" stroke="#333" stroke-width="0.5"/>
<rect x="477.45" y="76.65" width="11.30" height="111.55" fill="#fff"/>
<rect x="478.65" y="77.85" width="8.9" height="110.35" fill="#77AC30" stroke="#333" stroke-width="0.5"/>
<rect x="504.85" y="152.05" width="11.30" height="36.15" fill="#fff"/>
<rect x="506.05" y="153.25" width="8.9" height="34.95" fill="#0072BD" stroke="#333" stroke-width="0.5"/>
<rect x="515.85" y="154.35" width="11.30" height="33.85" fill="#fff"/>
<rect x="517.05" y="155.55" width="8.9" height="32.65" fill="#D95319" stroke="#333" stroke-width="0.5"/>
<rect x="526.85" y="152.25" width="11.30" height="35.95" fill="#fff"/>
<rect x="528.05" y="153.45" width="8.9" height="34.75" fill="#EDB120" stroke="#333" stroke-width="0.5"/>
<rect x="537.85" y="152.95" width="11.30" height="35.25" fill="#fff"/>
<rect x="539.05" y="154.15" width="8.9" height="34.05" fill="#7E2F8E" stroke="#333" stroke-width="0.5"/>
<rect x="548.85" y="50.65" width="11.30" height="137.55" fill="#fff"/>
<rect x="550.05" y="51.85" width="8.9" height="136.35" fill="#77AC30" stroke="#333" stroke-width="0.5"/>
<rect x="576.25" y="114.05" width="11.30" height="74.15" fill="#fff"/>
<rect x="577.45" y="115.25" width="8.9" height="72.95" fill="#0072BD" stroke="#333" stroke-width="0.5"/>
<rect x="587.25" y="127.65" width="11.30" height="60.55" fill="#fff"/>
<rect x="588.45" y="128.85" width="8.9" height="59.35" fill="#D95319" stroke="#333" stroke-width="0.5"/>
<rect x="598.25" y="124.75" width="11.30" height="63.45" fill="#fff"/>
<rect x="599.45" y="125.95" width="8.9" height="62.25" fill="#EDB120" stroke="#333" stroke-width="0.5"/>
<rect x="609.25" y="127.85" width="11.30" height="60.35" fill="#fff"/>
<rect x="610.45" y="129.05" width="8.9" height="59.15" fill="#7E2F8E" stroke="#333" stroke-width="0.5"/>
<rect x="620.25" y="56.95" width="11.30" height="131.25" fill="#fff"/>
<rect x="621.45" y="58.15" width="8.9" height="130.05" fill="#77AC30" stroke="#333" stroke-width="0.5"/>
<rect x="354.30" y="4.5" width="284.40" height="183.70" fill="none" stroke="#7a7a7a" stroke-width="0.7"/>
<line x1="354.30" y1="188.20" x2="357.30" y2="188.20" stroke="#7a7a7a" stroke-width="0.7"/>
<line x1="635.70" y1="188.20" x2="638.70" y2="188.20" stroke="#7a7a7a" stroke-width="0.7"/>
<line x1="354.30" y1="177.14" x2="356.00" y2="177.14" stroke="#7a7a7a" stroke-width="0.7"/>
<line x1="637.00" y1="177.14" x2="638.70" y2="177.14" stroke="#7a7a7a" stroke-width="0.7"/>
<line x1="354.30" y1="170.67" x2="356.00" y2="170.67" stroke="#7a7a7a" stroke-width="0.7"/>
<line x1="637.00" y1="170.67" x2="638.70" y2="170.67" stroke="#7a7a7a" stroke-width="0.7"/>
<line x1="354.30" y1="166.08" x2="356.00" y2="166.08" stroke="#7a7a7a" stroke-width="0.7"/>
<line x1="637.00" y1="166.08" x2="638.70" y2="166.08" stroke="#7a7a7a" stroke-width="0.7"/>
<line x1="354.30" y1="162.52" x2="356.00" y2="162.52" stroke="#7a7a7a" stroke-width="0.7"/>
<line x1="637.00" y1="162.52" x2="638.70" y2="162.52" stroke="#7a7a7a" stroke-width="0.7"/>
<line x1="354.30" y1="159.61" x2="356.00" y2="159.61" stroke="#7a7a7a" stroke-width="0.7"/>
<line x1="637.00" y1="159.61" x2="638.70" y2="159.61" stroke="#7a7a7a" stroke-width="0.7"/>
<line x1="354.30" y1="157.15" x2="356.00" y2="157.15" stroke="#7a7a7a" stroke-width="0.7"/>
<line x1="637.00" y1="157.15" x2="638.70" y2="157.15" stroke="#7a7a7a" stroke-width="0.7"/>
<line x1="354.30" y1="155.02" x2="356.00" y2="155.02" stroke="#7a7a7a" stroke-width="0.7"/>
<line x1="637.00" y1="155.02" x2="638.70" y2="155.02" stroke="#7a7a7a" stroke-width="0.7"/>
<line x1="354.30" y1="153.14" x2="356.00" y2="153.14" stroke="#7a7a7a" stroke-width="0.7"/>
<line x1="637.00" y1="153.14" x2="638.70" y2="153.14" stroke="#7a7a7a" stroke-width="0.7"/>
<text x="347.60" y="193.60" text-anchor="end" class="tk">10</text>
<text x="347.70" y="188.50" class="sup">0</text>
<line x1="354.30" y1="151.46" x2="357.30" y2="151.46" stroke="#7a7a7a" stroke-width="0.7"/>
<line x1="635.70" y1="151.46" x2="638.70" y2="151.46" stroke="#7a7a7a" stroke-width="0.7"/>
<line x1="354.30" y1="140.40" x2="356.00" y2="140.40" stroke="#7a7a7a" stroke-width="0.7"/>
<line x1="637.00" y1="140.40" x2="638.70" y2="140.40" stroke="#7a7a7a" stroke-width="0.7"/>
<line x1="354.30" y1="133.93" x2="356.00" y2="133.93" stroke="#7a7a7a" stroke-width="0.7"/>
<line x1="637.00" y1="133.93" x2="638.70" y2="133.93" stroke="#7a7a7a" stroke-width="0.7"/>
<line x1="354.30" y1="129.34" x2="356.00" y2="129.34" stroke="#7a7a7a" stroke-width="0.7"/>
<line x1="637.00" y1="129.34" x2="638.70" y2="129.34" stroke="#7a7a7a" stroke-width="0.7"/>
<line x1="354.30" y1="125.78" x2="356.00" y2="125.78" stroke="#7a7a7a" stroke-width="0.7"/>
<line x1="637.00" y1="125.78" x2="638.70" y2="125.78" stroke="#7a7a7a" stroke-width="0.7"/>
<line x1="354.30" y1="122.87" x2="356.00" y2="122.87" stroke="#7a7a7a" stroke-width="0.7"/>
<line x1="637.00" y1="122.87" x2="638.70" y2="122.87" stroke="#7a7a7a" stroke-width="0.7"/>
<line x1="354.30" y1="120.41" x2="356.00" y2="120.41" stroke="#7a7a7a" stroke-width="0.7"/>
<line x1="637.00" y1="120.41" x2="638.70" y2="120.41" stroke="#7a7a7a" stroke-width="0.7"/>
<line x1="354.30" y1="118.28" x2="356.00" y2="118.28" stroke="#7a7a7a" stroke-width="0.7"/>
<line x1="637.00" y1="118.28" x2="638.70" y2="118.28" stroke="#7a7a7a" stroke-width="0.7"/>
<line x1="354.30" y1="116.40" x2="356.00" y2="116.40" stroke="#7a7a7a" stroke-width="0.7"/>
<line x1="637.00" y1="116.40" x2="638.70" y2="116.40" stroke="#7a7a7a" stroke-width="0.7"/>
<text x="347.60" y="156.86" text-anchor="end" class="tk">10</text>
<text x="347.70" y="151.76" class="sup">1</text>
<line x1="354.30" y1="114.72" x2="357.30" y2="114.72" stroke="#7a7a7a" stroke-width="0.7"/>
<line x1="635.70" y1="114.72" x2="638.70" y2="114.72" stroke="#7a7a7a" stroke-width="0.7"/>
<line x1="354.30" y1="103.66" x2="356.00" y2="103.66" stroke="#7a7a7a" stroke-width="0.7"/>
<line x1="637.00" y1="103.66" x2="638.70" y2="103.66" stroke="#7a7a7a" stroke-width="0.7"/>
<line x1="354.30" y1="97.19" x2="356.00" y2="97.19" stroke="#7a7a7a" stroke-width="0.7"/>
<line x1="637.00" y1="97.19" x2="638.70" y2="97.19" stroke="#7a7a7a" stroke-width="0.7"/>
<line x1="354.30" y1="92.60" x2="356.00" y2="92.60" stroke="#7a7a7a" stroke-width="0.7"/>
<line x1="637.00" y1="92.60" x2="638.70" y2="92.60" stroke="#7a7a7a" stroke-width="0.7"/>
<line x1="354.30" y1="89.04" x2="356.00" y2="89.04" stroke="#7a7a7a" stroke-width="0.7"/>
<line x1="637.00" y1="89.04" x2="638.70" y2="89.04" stroke="#7a7a7a" stroke-width="0.7"/>
<line x1="354.30" y1="86.13" x2="356.00" y2="86.13" stroke="#7a7a7a" stroke-width="0.7"/>
<line x1="637.00" y1="86.13" x2="638.70" y2="86.13" stroke="#7a7a7a" stroke-width="0.7"/>
<line x1="354.30" y1="83.67" x2="356.00" y2="83.67" stroke="#7a7a7a" stroke-width="0.7"/>
<line x1="637.00" y1="83.67" x2="638.70" y2="83.67" stroke="#7a7a7a" stroke-width="0.7"/>
<line x1="354.30" y1="81.54" x2="356.00" y2="81.54" stroke="#7a7a7a" stroke-width="0.7"/>
<line x1="637.00" y1="81.54" x2="638.70" y2="81.54" stroke="#7a7a7a" stroke-width="0.7"/>
<line x1="354.30" y1="79.66" x2="356.00" y2="79.66" stroke="#7a7a7a" stroke-width="0.7"/>
<line x1="637.00" y1="79.66" x2="638.70" y2="79.66" stroke="#7a7a7a" stroke-width="0.7"/>
<text x="347.60" y="120.12" text-anchor="end" class="tk">10</text>
<text x="347.70" y="115.02" class="sup">2</text>
<line x1="354.30" y1="77.98" x2="357.30" y2="77.98" stroke="#7a7a7a" stroke-width="0.7"/>
<line x1="635.70" y1="77.98" x2="638.70" y2="77.98" stroke="#7a7a7a" stroke-width="0.7"/>
<line x1="354.30" y1="66.92" x2="356.00" y2="66.92" stroke="#7a7a7a" stroke-width="0.7"/>
<line x1="637.00" y1="66.92" x2="638.70" y2="66.92" stroke="#7a7a7a" stroke-width="0.7"/>
<line x1="354.30" y1="60.45" x2="356.00" y2="60.45" stroke="#7a7a7a" stroke-width="0.7"/>
<line x1="637.00" y1="60.45" x2="638.70" y2="60.45" stroke="#7a7a7a" stroke-width="0.7"/>
<line x1="354.30" y1="55.86" x2="356.00" y2="55.86" stroke="#7a7a7a" stroke-width="0.7"/>
<line x1="637.00" y1="55.86" x2="638.70" y2="55.86" stroke="#7a7a7a" stroke-width="0.7"/>
<line x1="354.30" y1="52.30" x2="356.00" y2="52.30" stroke="#7a7a7a" stroke-width="0.7"/>
<line x1="637.00" y1="52.30" x2="638.70" y2="52.30" stroke="#7a7a7a" stroke-width="0.7"/>
<line x1="354.30" y1="49.39" x2="356.00" y2="49.39" stroke="#7a7a7a" stroke-width="0.7"/>
<line x1="637.00" y1="49.39" x2="638.70" y2="49.39" stroke="#7a7a7a" stroke-width="0.7"/>
<line x1="354.30" y1="46.93" x2="356.00" y2="46.93" stroke="#7a7a7a" stroke-width="0.7"/>
<line x1="637.00" y1="46.93" x2="638.70" y2="46.93" stroke="#7a7a7a" stroke-width="0.7"/>
<line x1="354.30" y1="44.80" x2="356.00" y2="44.80" stroke="#7a7a7a" stroke-width="0.7"/>
<line x1="637.00" y1="44.80" x2="638.70" y2="44.80" stroke="#7a7a7a" stroke-width="0.7"/>
<line x1="354.30" y1="42.92" x2="356.00" y2="42.92" stroke="#7a7a7a" stroke-width="0.7"/>
<line x1="637.00" y1="42.92" x2="638.70" y2="42.92" stroke="#7a7a7a" stroke-width="0.7"/>
<text x="347.60" y="83.38" text-anchor="end" class="tk">10</text>
<text x="347.70" y="78.28" class="sup">3</text>
<line x1="354.30" y1="41.24" x2="357.30" y2="41.24" stroke="#7a7a7a" stroke-width="0.7"/>
<line x1="635.70" y1="41.24" x2="638.70" y2="41.24" stroke="#7a7a7a" stroke-width="0.7"/>
<line x1="354.30" y1="30.18" x2="356.00" y2="30.18" stroke="#7a7a7a" stroke-width="0.7"/>
<line x1="637.00" y1="30.18" x2="638.70" y2="30.18" stroke="#7a7a7a" stroke-width="0.7"/>
<line x1="354.30" y1="23.71" x2="356.00" y2="23.71" stroke="#7a7a7a" stroke-width="0.7"/>
<line x1="637.00" y1="23.71" x2="638.70" y2="23.71" stroke="#7a7a7a" stroke-width="0.7"/>
<line x1="354.30" y1="19.12" x2="356.00" y2="19.12" stroke="#7a7a7a" stroke-width="0.7"/>
<line x1="637.00" y1="19.12" x2="638.70" y2="19.12" stroke="#7a7a7a" stroke-width="0.7"/>
<line x1="354.30" y1="15.56" x2="356.00" y2="15.56" stroke="#7a7a7a" stroke-width="0.7"/>
<line x1="637.00" y1="15.56" x2="638.70" y2="15.56" stroke="#7a7a7a" stroke-width="0.7"/>
<line x1="354.30" y1="12.65" x2="356.00" y2="12.65" stroke="#7a7a7a" stroke-width="0.7"/>
<line x1="637.00" y1="12.65" x2="638.70" y2="12.65" stroke="#7a7a7a" stroke-width="0.7"/>
<line x1="354.30" y1="10.19" x2="356.00" y2="10.19" stroke="#7a7a7a" stroke-width="0.7"/>
<line x1="637.00" y1="10.19" x2="638.70" y2="10.19" stroke="#7a7a7a" stroke-width="0.7"/>
<line x1="354.30" y1="8.06" x2="356.00" y2="8.06" stroke="#7a7a7a" stroke-width="0.7"/>
<line x1="637.00" y1="8.06" x2="638.70" y2="8.06" stroke="#7a7a7a" stroke-width="0.7"/>
<line x1="354.30" y1="6.18" x2="356.00" y2="6.18" stroke="#7a7a7a" stroke-width="0.7"/>
<line x1="637.00" y1="6.18" x2="638.70" y2="6.18" stroke="#7a7a7a" stroke-width="0.7"/>
<text x="347.60" y="46.64" text-anchor="end" class="tk">10</text>
<text x="347.70" y="41.54" class="sup">4</text>
<line x1="354.30" y1="4.50" x2="357.30" y2="4.50" stroke="#7a7a7a" stroke-width="0.7"/>
<line x1="635.70" y1="4.50" x2="638.70" y2="4.50" stroke="#7a7a7a" stroke-width="0.7"/>
<text x="347.60" y="9.90" text-anchor="end" class="tk">10</text>
<text x="347.70" y="4.80" class="sup">5</text>
<line x1="389.70" y1="188.20" x2="389.70" y2="185.00" stroke="#7a7a7a" stroke-width="0.7"/>
<line x1="389.70" y1="4.50" x2="389.70" y2="7.70" stroke="#7a7a7a" stroke-width="0.7"/>
<line x1="461.10" y1="188.20" x2="461.10" y2="185.00" stroke="#7a7a7a" stroke-width="0.7"/>
<line x1="461.10" y1="4.50" x2="461.10" y2="7.70" stroke="#7a7a7a" stroke-width="0.7"/>
<line x1="532.50" y1="188.20" x2="532.50" y2="185.00" stroke="#7a7a7a" stroke-width="0.7"/>
<line x1="532.50" y1="4.50" x2="532.50" y2="7.70" stroke="#7a7a7a" stroke-width="0.7"/>
<line x1="603.90" y1="188.20" x2="603.90" y2="185.00" stroke="#7a7a7a" stroke-width="0.7"/>
<line x1="603.90" y1="4.50" x2="603.90" y2="7.70" stroke="#7a7a7a" stroke-width="0.7"/>
<text x="389.70" y="200.8" text-anchor="middle" class="xt">SST</text>
<text x="461.10" y="200.8" text-anchor="middle" class="xt">Video</text>
<text x="532.50" y="200.8" text-anchor="middle" class="xt">Tesla</text>
<text x="603.90" y="200.8" text-anchor="middle" class="xt">NASDAQ-100</text>
<text x="496.60" y="213.2" text-anchor="middle" class="xl">Data</text>
<text transform="translate(334.30,96.95) rotate(-90)" text-anchor="middle" class="yl">Average running time/seconds</text>
<rect x="388.5" y="4.4" width="57.0" height="53.5" fill="#fff" stroke="#8c8c8c" stroke-width="0.6"/>
<rect x="389.50" y="5.90" width="10.4" height="7.9" fill="#0072BD" stroke="#333" stroke-width="0.5"/>
<text x="400.50" y="13.80" class="lg">LDS</text>
<rect x="389.50" y="16.52" width="10.4" height="7.9" fill="#D95319" stroke="#333" stroke-width="0.5"/>
<text x="400.50" y="24.42" class="lg">dct-MLDS</text>
<rect x="389.50" y="27.14" width="10.4" height="7.9" fill="#EDB120" stroke="#333" stroke-width="0.5"/>
<text x="400.50" y="35.04" class="lg">dft-MLDS</text>
<rect x="389.50" y="37.76" width="10.4" height="7.9" fill="#7E2F8E" stroke="#333" stroke-width="0.5"/>
<text x="400.50" y="45.66" class="lg">dwt-MLDS</text>
<rect x="389.50" y="48.38" width="10.4" height="7.9" fill="#77AC30" stroke="#333" stroke-width="0.5"/>
<text x="400.50" y="56.28" class="lg">MLDS</text>
<text x="484.20" y="236.3" text-anchor="middle" class="cap">(b)</text>
</svg>
</body></html>
